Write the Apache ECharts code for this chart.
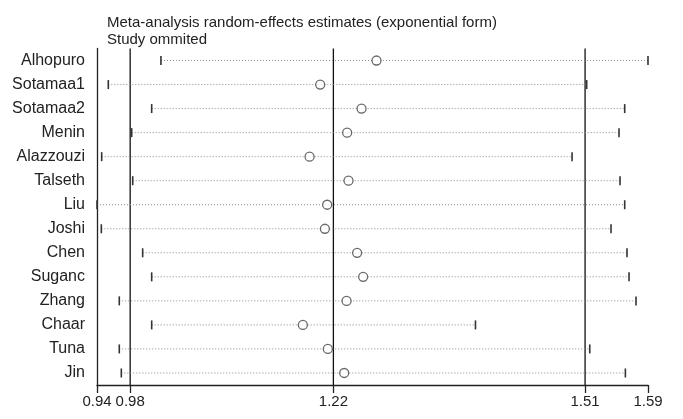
<!DOCTYPE html>
<html>
<head>
<meta charset="utf-8">
<script src="https://cdn.jsdelivr.net/npm/echarts@6/dist/echarts.min.js"></script>
<style>
html,body{margin:0;padding:0;background:#fff;}
#chart{width:683px;height:419px;}
</style>
</head>
<body>
<div id="chart"></div>
<script>
// Studies omitted (top to bottom)
const studies = ['Alhopuro','Sotamaa1','Sotamaa2','Menin','Alazzouzi','Talseth','Liu','Joshi','Chen','Suganc','Zhang','Chaar','Tuna','Jin'];
// Estimate when the study is omitted
const estimates = [1.2667,1.2005,1.2491,1.2322,1.1880,1.2338,1.2087,1.2060,1.2439,1.2510,1.2315,1.1801,1.2095,1.2287];
// Lower 95% CI
const lowerCI = [1.0132,0.9513,1.0023,0.9788,0.9435,0.9800,0.9380,0.9431,0.9917,1.0023,0.9642,1.0023,0.9642,0.9666];
// Upper 95% CI
const upperCI = [1.5860,1.5139,1.5586,1.5519,1.4967,1.5531,1.5586,1.5425,1.5613,1.5637,1.5719,1.3831,1.5175,1.5594];
// Axis tick values: min, overall lower CI, overall estimate, overall upper CI, max
const tickValues = [0.938,0.977,1.216,1.512,1.586];
const refLines = [tickValues[1], tickValues[2], tickValues[3]];

const FONT = '"Liberation Sans", Arial, sans-serif';
const chart = echarts.init(document.getElementById('chart'), null, {renderer:'canvas'});

const ciData = studies.map((s,i)=>[lowerCI[i], upperCI[i], estimates[i], s]);
const estData = studies.map((s,i)=>[estimates[i], s]);
const refData = refLines.map(v=>[v, studies[0]]);

chart.setOption({
  animation:false,
  backgroundColor:'#fff',
  title:{
    text:'Meta-analysis random-effects estimates (exponential form)\nStudy ommited',
    left:102, top:9,
    textStyle:{fontFamily:FONT, fontSize:15, fontWeight:'normal', color:'#222', lineHeight:17}
  },
  grid:{left:97, right:35, top:48.5, bottom:34, containLabel:false},
  xAxis:{
    type:'value', min:tickValues[0], max:tickValues[4],
    axisLine:{show:true, lineStyle:{color:'#222', width:1.3}},
    axisTick:{show:true, length:8, customValues:tickValues, lineStyle:{color:'#222', width:1.3}},
    axisLabel:{customValues:tickValues, margin:9, fontFamily:FONT, fontSize:15, color:'#222',
      formatter:v=>v.toFixed(2)},
    splitLine:{show:false}
  },
  yAxis:{
    type:'category', data:studies, inverse:true, boundaryGap:true,
    axisLine:{show:true, onZero:false, lineStyle:{color:'#222', width:1.3}},
    axisTick:{show:false},
    axisLabel:{margin:12, fontFamily:FONT, fontSize:16, color:'#222'},
    splitLine:{show:false}
  },
  series:[
    {
      type:'custom',
      data:refData,
      dimensions:['x','y'],
      encode:{x:0, y:1},
      renderItem:function(params, api){
        const p = api.coord([api.value(0), 0]);
        const cs = params.coordSys;
        return {type:'line', shape:{x1:p[0], y1:cs.y, x2:p[0], y2:cs.y+cs.height},
          style:{stroke:'#111', lineWidth:1.3}};
      },
      z:1
    },
    {
      type:'custom',
      data:ciData,
      dimensions:['lo','hi','est','study'],
      encode:{x:[0,1,2], y:3},
      renderItem:function(params, api){
        const yi = params.dataIndex;
        const lo = api.coord([api.value(0), yi]);
        const hi = api.coord([api.value(1), yi]);
        const h = 4.5;
        return {type:'group', children:[
          {type:'line', shape:{x1:lo[0],y1:lo[1],x2:hi[0],y2:hi[1]},
            style:{stroke:'#8a8a8a', lineWidth:1, lineDash:[1,2]}},
          {type:'line', shape:{x1:lo[0],y1:lo[1]-h,x2:lo[0],y2:lo[1]+h},
            style:{stroke:'#333', lineWidth:1.6}},
          {type:'line', shape:{x1:hi[0],y1:hi[1]-h,x2:hi[0],y2:hi[1]+h},
            style:{stroke:'#333', lineWidth:1.6}}
        ]};
      },
      z:2
    },
    {
      type:'scatter',
      data:estData,
      symbol:'circle', symbolSize:9,
      itemStyle:{color:'#fff', borderColor:'#444', borderWidth:1.3},
      z:3
    }
  ]
});
</script>
</body>
</html>
